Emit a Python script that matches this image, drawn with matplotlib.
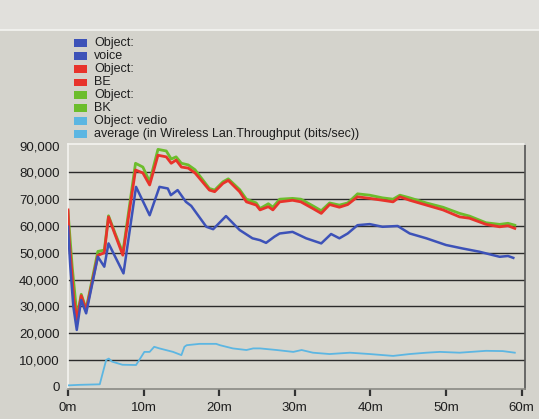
import matplotlib
matplotlib.use("Agg")
import matplotlib.pyplot as plt
from matplotlib.patches import Rectangle
from matplotlib.ticker import FuncFormatter

# Wireless LAN throughput per access category (bits/sec), time in minutes
voice_t = [0, 0.3, 0.7, 1.16, 1.74, 2.4, 3.95, 4.8, 5.36, 7.34, 9.0, 10.8, 12.1,
           13.2, 13.6, 14.5, 15.6, 16.3, 18.3, 19.2, 20.9, 22.7, 24.4, 25.4, 26.2,
           27.3, 28.0, 29.7, 31.5, 33.5, 34.8, 35.9, 37.0, 38.3, 39.9, 41.6, 43.6,
           45.2, 47.4, 50.0, 52.2, 54.4, 57.1, 58.2, 58.9]
voice = [59700, 45000, 30000, 21200, 32400, 27400, 48500, 44800, 53500, 42300,
         74600, 64000, 74600, 74000, 71500, 73400, 69000, 67500, 59700, 58800,
         63700, 58500, 55400, 54700, 53700, 56000, 57200, 57800, 55400, 53500,
         57000, 55400, 57200, 60300, 60700, 59700, 60000, 57200, 55400, 52900,
         51600, 50400, 48500, 48800, 48100]

be_t = [0, 0.15, 0.5, 0.75, 1.2, 1.75, 2.4, 3.95, 4.8, 5.36, 6.2, 7.25, 8.93,
        9.9, 10.8, 11.9, 13.0, 13.65, 14.3, 15.0, 15.9, 16.8, 18.7, 19.4, 20.5,
        21.2, 22.7, 23.6, 24.9, 25.4, 26.5, 27.1, 28.0, 29.7, 30.8, 32.4, 33.5,
        34.6, 35.9, 37.0, 38.3, 39.9, 41.6, 43.0, 43.9, 45.2, 47.4, 49.6, 51.8,
        53.1, 55.3, 57.1, 58.2, 59.1]
be = [66000, 55000, 43000, 33000, 25000, 34000, 28500, 49000, 50000, 63400,
      57000, 49100, 80900, 79800, 75300, 86400, 85800, 83400, 84600, 82000,
      81600, 79800, 73400, 72800, 75900, 77000, 72800, 69000, 67800, 66000,
      67200, 66000, 69000, 69600, 69000, 66500, 64700, 68000, 67000, 68000,
      70900, 70300, 69600, 69000, 70900, 69600, 67800, 66000, 63400, 62900,
      60600, 59700, 60100, 59100]

bk_t = [0, 0.55, 1.2, 1.75, 2.4, 3.95, 4.8, 5.36, 6.2, 7.25, 8.93, 9.9, 10.8,
        11.9, 13.0, 13.65, 14.3, 15.0, 15.9, 16.8, 18.7, 19.4, 20.5, 21.2, 22.7,
        23.6, 24.9, 25.4, 26.5, 27.1, 28.0, 29.7, 30.8, 32.4, 33.5, 34.6, 35.9,
        37.0, 38.3, 39.9, 41.6, 43.0, 43.9, 45.2, 47.4, 49.6, 51.8, 53.1, 55.3,
        57.1, 58.2, 59.1]
bk = [65500, 45000, 26000, 34500, 29000, 50500, 51000, 63800, 57500, 50000,
      83400, 82000, 76500, 88600, 88000, 85000, 85800, 83400, 82800, 81000,
      74000, 73400, 76500, 77600, 73600, 70000, 68600, 66500, 68300, 67000,
      70000, 70300, 70000, 67500, 65700, 68600, 67800, 68600, 72000, 71500,
      70500, 70000, 71500, 70500, 68600, 67000, 64700, 63700, 61200, 60600,
      61000, 60300]

video_t = [0, 1.5, 4.2, 5.05, 5.4, 5.8, 7.2, 9.0, 9.7, 10.1, 10.8, 11.4, 12.1,
           13.9, 15.0, 15.4, 15.7, 17.4, 19.6, 20.1, 21.8, 23.6, 24.5, 25.4,
           27.6, 29.8, 30.9, 32.4, 34.6, 37.3, 39.9, 43.0, 45.2, 47.4, 49.2,
           51.8, 55.3, 57.5, 59.1]
video = [500, 700, 900, 10000, 10500, 9400, 8200, 8100, 11200, 13000, 13000,
         14900, 14300, 13000, 11800, 14900, 15500, 16000, 16000, 15500, 14300,
         13700, 14300, 14300, 13700, 13000, 13700, 12700, 12200, 12700, 12200,
         11500, 12200, 12700, 13000, 12700, 13400, 13300, 12700]

legend_labels = ["Object:", "voice", "Object:", "BE", "Object:", "BK",
                 "Object: vedio", "average (in Wireless Lan.Throughput (bits/sec))"]

c_voice = "#3d52b8"
c_be = "#e8332b"
c_bk = "#6cbd2c"
c_video = "#5cb6e2"
legend_colors = [c_voice, c_voice, c_be, c_be, c_bk, c_bk, c_video, c_video]

W, H = 539, 419
fig = plt.figure(figsize=(W / 100, H / 100), dpi=100)
fig.patch.set_facecolor("#d4d3cc")

# lighter title strip across the top
fig.patches.append(Rectangle((0, (H - 30) / H), 1, 30 / H, transform=fig.transFigure,
                             facecolor="#e1e0dc", edgecolor="none", zorder=0))
fig.add_artist(plt.Line2D([0, 1], [(H - 30) / H] * 2, transform=fig.transFigure,
                          color="#f4f4f1", lw=1.2))

ax = fig.add_axes([68 / W, (H - 389) / H, (525 - 68) / W, (389 - 144) / H])
ax.set_facecolor("#d7d6ce")

ax.plot(bk_t, bk, color=c_bk, lw=2.0, zorder=3)
ax.plot(be_t, be, color=c_be, lw=2.0, zorder=4)
ax.plot(voice_t, voice, color=c_voice, lw=1.8, zorder=5)
ax.plot(video_t, video, color=c_video, lw=1.3, zorder=5)

ax.set_xlim(0, 60.45)
ax.set_ylim(-850, 90600)

ax.set_yticks(range(0, 90001, 10000))
ax.yaxis.set_major_formatter(FuncFormatter(lambda v, p: f"{int(v):,}"))
ax.set_xticks(range(0, 61, 10))
ax.set_xticklabels([f"{m}m" for m in range(0, 61, 10)])

for v in range(10000, 80001, 10000):
    ax.axhline(v, color="#2b2b2b", lw=1.0, zorder=2)

ax.tick_params(axis="y", length=0, pad=6, labelsize=9.5, labelcolor="#1e1e1e")
ax.tick_params(axis="x", length=5, width=1.6, color="#333333", pad=4,
               labelsize=9.5, labelcolor="#1e1e1e")
for lab in ax.get_xticklabels() + ax.get_yticklabels():
    lab.set_fontfamily("Liberation Sans")

ax.spines["top"].set_color("#f4f4f0")
ax.spines["left"].set_color("#f4f4f0")
ax.spines["right"].set_color("#555555")
ax.spines["bottom"].set_color("#8a8a84")
for s in ax.spines.values():
    s.set_linewidth(1.2)

# legend block above the plot
y0 = 43.0
step = 13.0
for i, (lab, col) in enumerate(zip(legend_labels, legend_colors)):
    yc = y0 + i * step
    fig.patches.append(Rectangle((74 / W, (H - yc - 4) / H), 13 / W, 7.5 / H,
                                 transform=fig.transFigure, facecolor=col,
                                 edgecolor="none"))
    fig.text(94 / W, (H - yc) / H, lab, ha="left", va="center", fontsize=9,
             family="Liberation Sans", color="#1e1e1e")

fig.savefig("out.png", dpi=100, facecolor=fig.get_facecolor())
